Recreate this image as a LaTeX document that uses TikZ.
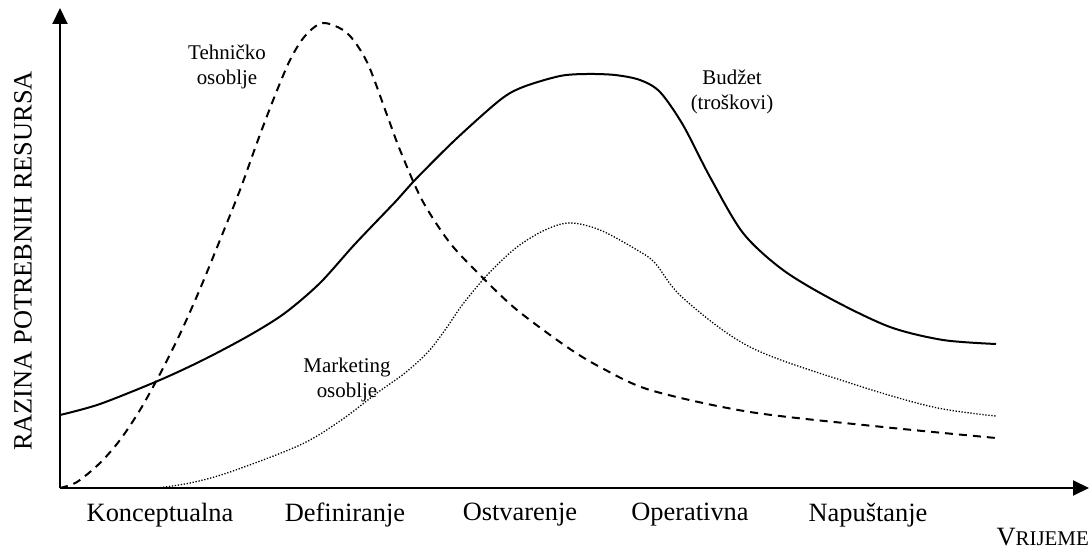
\documentclass[tikz,border=0pt]{standalone}
\usepackage{fontspec}
\setmainfont{Liberation Serif}
\usetikzlibrary{arrows.meta}
\begin{document}
\begin{tikzpicture}[x=1bp,y=-1bp,
  axis/.style={line width=2bp,-{Triangle[length=16bp,width=15bp]}},
  budget/.style={line width=2bp},
  tech/.style={line width=2bp,dash pattern=on 8bp off 6bp},
  mkt/.style={line width=1.3bp,dash pattern=on 1.3bp off 1.7bp},
  big/.style={font=\fontsize{26.5}{30}\selectfont,inner sep=0pt},
  small/.style={font=\fontsize{21}{25}\selectfont,inner sep=0pt,align=center},
]
\useasboundingbox (0,0) rectangle (1089,550);
\coordinate (O) at (60,488);
\coordinate (ytop) at (60,8);
\coordinate (xend) at (1089,488);
\draw[axis] (O) -- (ytop);
\draw[axis] (O) -- (xend);

% Budget (solid)
\draw[budget] plot[smooth,tension=0.5] coordinates {
 (60,415) (100,404) (160,380) (205,359) (250,335) (285,313) (320,283) (355,244)
 (397,200) (413,182) (455,140) (500,100) (523,87) (560,76) (587,74) (615,75)
 (640,80) (660,92) (683,125) (710,177) (743,233) (783,270) (833,300) (890,327)
 (943,340) (996,344)};

% Technical staff (dashed)
\draw[tech] plot[smooth,tension=0.5] coordinates {
 (60,488) (77,482) (100,463) (120,440) (140,410) (160,374) (180,334) (200,289)
 (220,240) (240,190) (258,140) (274,98) (290,60) (305,36) (323,23) (347,33)
 (367,62) (387,115) (400,150) (422,200) (450,243) (483,278) (517,310)
 (567,347) (600,367) (650,390) (750,412) (883,427) (996,438)};

% Marketing staff (dotted)
\draw[mkt] plot[smooth,tension=0.55] coordinates {
 (157,488) (190,483) (230,472) (300,445) (340,421) (377,393) (405,373)
 (428,352) (445,330) (460,308) (475,289) (492,270) (517,247) (545,230) (570,223)
 (600,230) (637,250) (655,263) (683,298) (750,347) (850,383) (933,407)
 (996,416)};

% labels
\node[small] (tech) at (227,67) {Tehničko\\osoblje};
\node[small] (bud) at (732,92) {Budžet\\(troškovi)};
\node[small] (mk) at (347,380) {Marketing\\osoblje};

\node[big] (p1) at (160,515) {Konceptualna};
\node[big] (p2) at (345,515) {Definiranje};
\node[big] (p3) at (520,515) {Ostvarenje};
\node[big] (p4) at (690,515) {Operativna};
\node[big] (p5) at (868,515) {Napuštanje};
\node[inner sep=0pt,anchor=east] (vr) at (1089,537) {\fontsize{26.5}{30}\selectfont V\fontsize{21}{25}\selectfont RIJEME};
\node[big,rotate=90] (ylab) at (23,261) {RAZINA POTREBNIH RESURSA};
\end{tikzpicture}
\end{document}
